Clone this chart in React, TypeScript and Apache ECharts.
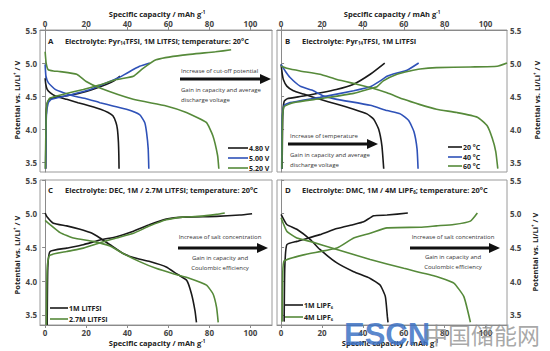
import React, { useEffect, useRef } from "react";
import * as echarts from "echarts";

// ---------- tick labels ----------
const xTicks = [0, 20, 40, 60, 80, 100];
const yTicks = [3.5, 4.0, 4.5, 5.0, 5.5];

// ---------- Panel A (cut-off potential) [capacity, potential] ----------
const aCharge480 = [[0.3,3.4],[0.5,4.2],[1,4.38],[2,4.45],[5,4.48],[10,4.5],[20,4.57],[30,4.68],[34,4.74],[36.5,4.8]];
const aDis480 = [[0,4.77],[0.3,4.68],[1,4.6],[2.4,4.55],[5,4.5],[10.5,4.45],[16,4.4],[21.8,4.35],[27,4.3],[30.7,4.25],[33,4.2],[34.5,4.1],[35.2,4.0],[35.7,3.8],[35.9,3.6],[36,3.4]];
const aCharge500 = [[0.2,3.4],[0.6,4.2],[1.5,4.4],[3,4.45],[10,4.5],[22,4.6],[30,4.7],[36,4.78],[40,4.85],[46,4.95],[51,5.0]];
const aDis500 = [[0,4.98],[0.4,4.8],[1.6,4.7],[4.9,4.6],[9,4.55],[14,4.5],[20,4.46],[26.7,4.4],[33,4.35],[39.6,4.3],[46,4.22],[48.5,4.1],[49.4,3.95],[50.2,3.7],[50.5,3.4]];
const aCharge520 = [[0.1,3.4],[0.5,4.2],[1,4.4],[2.4,4.47],[8,4.52],[18.6,4.6],[26.7,4.67],[34.8,4.75],[43,4.8],[47.7,4.92],[54,5.05],[67,5.12],[83,5.17],[90.6,5.2]];
const aDis520 = [[0,5.17],[0.5,5.0],[1.5,4.9],[4,4.88],[7.3,4.87],[15.4,4.83],[20,4.72],[26.7,4.62],[42.9,4.45],[59,4.35],[68.8,4.25],[78.5,4.1],[81.7,3.9],[84,3.6],[84.6,3.4]];

// ---------- Panel B (temperature) ----------
const bCharge20 = [[0.5,3.4],[0.8,4.2],[1.5,4.42],[3,4.46],[11,4.5],[27,4.6],[35.5,4.68],[43.6,4.83],[50.7,5.0]];
const bDis20 = [[0,4.98],[0.5,4.85],[1.1,4.75],[2.8,4.65],[6,4.58],[11,4.53],[19,4.45],[27,4.38],[35.5,4.3],[42,4.23],[45.3,4.15],[47.7,4.0],[49.3,3.75],[50.2,3.4]];
const bCharge40 = [[0.3,3.4],[0.6,4.2],[1.5,4.36],[4.4,4.4],[19,4.48],[35.5,4.58],[43.6,4.64],[48.5,4.73],[51.8,4.8],[56.7,4.85],[61.6,4.89],[67.3,5.0]];
const bDis40 = [[0,4.98],[2,4.88],[4.4,4.78],[9.3,4.65],[15,4.59],[20.8,4.5],[27.3,4.45],[43.6,4.36],[51.8,4.28],[58.3,4.23],[62.4,4.13],[65,3.96],[66.5,3.7],[67,3.4]];
const bCharge60 = [[0.4,3.4],[0.7,4.2],[1.5,4.34],[6,4.4],[19,4.46],[35.5,4.54],[43.6,4.61],[46.9,4.64],[50,4.73],[56.7,4.83],[63,4.88],[68,4.91],[76,4.93],[92.6,4.94],[105.7,4.95],[110.5,5.0]];
const bDis60 = [[0,4.95],[2.8,4.92],[9.3,4.88],[19,4.83],[27.3,4.75],[37,4.68],[43.6,4.63],[51.8,4.55],[60,4.45],[68,4.37],[76,4.3],[86,4.25],[96,4.18],[100.8,4.05],[103.3,3.86],[105,3.66],[106,3.4]];

// ---------- Panel C (DEC, LiTFSI) ----------
const cCharge1M = [[1,3.35],[1.3,4.2],[2.4,4.44],[10.5,4.49],[18.6,4.54],[26.7,4.61],[34.8,4.66],[43,4.74],[51,4.84],[59,4.92],[67,4.95],[83.5,4.96],[94.8,4.98],[100.8,5.0]];
const cDis1M = [[0,5.01],[0.8,4.96],[4,4.86],[10.5,4.82],[17,4.77],[22,4.72],[26.7,4.64],[31.6,4.54],[38,4.41],[43,4.35],[51,4.29],[59,4.21],[64,4.11],[69,4.01],[71.3,3.81],[73,3.56],[73.7,3.39]];
const cCharge27 = [[0.6,3.35],[1,4.2],[2.1,4.38],[10.5,4.44],[18.6,4.49],[26.7,4.57],[34.8,4.64],[43,4.71],[51,4.82],[59,4.91],[67,4.95],[75,4.96],[83.5,4.99],[87.5,5.01]];
const cDis27 = [[0,4.9],[2.4,4.84],[7.3,4.72],[13.8,4.64],[23.5,4.59],[31.6,4.52],[38,4.41],[46,4.29],[54,4.19],[62.4,4.11],[70.5,4.04],[78.6,3.94],[81.8,3.81],[83.5,3.61],[84.3,3.39]];

// ---------- Panel D (DMC, LiPF6) ----------
const dCharge1M = [[1.5,3.4],[1.8,4.2],[2.8,4.54],[7.7,4.59],[19,4.69],[27.3,4.78],[35.5,4.84],[40.4,4.88],[45.3,4.97],[51.8,4.98],[62,5.01]];
const dDis1M = [[0,4.99],[2.8,4.84],[7.7,4.77],[14.2,4.62],[19,4.47],[27.3,4.27],[35.5,4.14],[43.6,4.04],[48.5,3.94],[51,3.77],[52,3.47],[52.3,3.39]];
const dCharge4M = [[0.5,3.4],[0.8,4.1],[1.5,4.3],[11,4.39],[27.3,4.49],[35.5,4.64],[43.6,4.71],[51.8,4.79],[68,4.8],[76,4.82],[84.5,4.84],[92.6,4.89],[96,5.01]];
const dDis4M = [[0,4.94],[2.8,4.74],[7.7,4.64],[14.2,4.59],[27.3,4.47],[43.6,4.32],[60,4.19],[76,4.07],[84.5,3.97],[89.4,3.77],[92.6,3.39]];

const BLACK = "#1a1a1a";
const BLUE = "#2f52b8";
const GREEN = "#568a3a";
const FONT = "Open Sans";

const grids = [
  { left: 40, top: 30, width: 232, height: 142 },
  { left: 277, top: 30, width: 230, height: 142 },
  { left: 40, top: 180, width: 232, height: 145 },
  { left: 277, top: 180, width: 230, height: 145 },
];

function xAx(i: number, pos: string, min: number, max: number) {
  return {
    type: "value", gridIndex: i, position: pos, min, max,
    axisLine: { show: true, lineStyle: { color: "#8a8a8a", width: 1 } },
    axisTick: { show: true, length: 3, customValues: xTicks, lineStyle: { color: "#8a8a8a" } },
    axisLabel: { customValues: xTicks, margin: 3, fontSize: 8, fontWeight: "bold", color: "#444", fontFamily: FONT },
    splitLine: { show: false },
  };
}
function yAx(i: number, pos: string) {
  return {
    type: "value", gridIndex: i, position: pos, min: 3.35, max: 5.5,
    axisLine: { show: true, lineStyle: { color: "#8a8a8a", width: 1 } },
    axisTick: { show: true, length: 3, customValues: yTicks, lineStyle: { color: "#8a8a8a" } },
    axisLabel: { customValues: yTicks, margin: 3, fontSize: 8, fontWeight: "bold", color: "#444", fontFamily: FONT,
      formatter: (v: number) => v.toFixed(1) },
    splitLine: { show: false },
  };
}
function ser(name: string, data: number[][], i: number, color: string) {
  return { type: "line", name, data, xAxisIndex: i, yAxisIndex: i, showSymbol: false, smooth: 0.15,
    lineStyle: { color, width: 1.6 }, itemStyle: { color }, z: 3 };
}

function txt(x: number, y: number, text: string, o: any = {}) {
  return { type: "text", x, y, z: 10, style: { text, fontFamily: FONT, fontSize: 6, fill: "#333",
    textVerticalAlign: "middle", ...o } };
}
function rich(x: number, y: number, text: string, size: number, o: any = {}, rot = 0) {
  return { type: "text", x, y, rotation: rot, z: 10, style: { text, fontFamily: FONT, fill: "#222",
    textAlign: o.align || "left", textVerticalAlign: "middle",
    rich: {
      b: { fontSize: size, fontWeight: "bold", fontFamily: FONT, fill: o.fill || "#222" },
      s: { fontSize: size * 0.6, fontWeight: "bold", fontFamily: FONT, padding: [size * 0.6, 0, 0, 0], fill: o.fill || "#222" },
      p: { fontSize: size * 0.6, fontWeight: "bold", fontFamily: FONT, padding: [0, 0, size * 0.6, 0], fill: o.fill || "#222" },
    } } };
}
function arrow(x1: number, x2: number, y: number) {
  return [
    { type: "line", z: 10, shape: { x1, y1: y, x2: x2 - 8, y2: y }, style: { stroke: "#111", lineWidth: 3 } },
    { type: "polygon", z: 10, shape: { points: [[x2 - 11, y - 5], [x2, y], [x2 - 11, y + 5]] }, style: { fill: "#111" } },
  ];
}
function leg(x1: number, x2: number, y: number, color: string, label: string) {
  return [
    { type: "line", z: 10, shape: { x1, y1: y, x2, y2: y }, style: { stroke: color, lineWidth: 1.6 } },
    rich(x2 + 1, y, label, 7),
  ];
}

export default function App() {
  const ref = useRef<HTMLDivElement>(null);
  useEffect(() => {
    if (!ref.current) return;
    const chart = echarts.init(ref.current, null, { renderer: "svg" });
    const axTitle = "{b|Specific capacity / mAh g}{p|-1}";
    const yTitle = "{b|Potential vs. Li/Li}{p|+}{b| / V}";
    chart.setOption({
      animation: false,
      backgroundColor: "#fff",
      grid: grids.map((g) => ({ ...g, show: true, borderColor: "#9a9a9a", borderWidth: 1, backgroundColor: "transparent" })),
      xAxis: [xAx(0, "top", -2.5, 110.5), xAx(1, "top", -2, 110.5), xAx(2, "bottom", -2.5, 110.5), xAx(3, "bottom", -2, 110.5)],
      yAxis: [yAx(0, "left"), yAx(1, "right"), yAx(2, "left"), yAx(3, "right")],
      series: [
        ser("4.80 V", aCharge480, 0, BLACK), ser("4.80 V", aDis480, 0, BLACK),
        ser("5.00 V", aCharge500, 0, BLUE), ser("5.00 V", aDis500, 0, BLUE),
        ser("5.20 V", aCharge520, 0, GREEN), ser("5.20 V", aDis520, 0, GREEN),
        ser("20 °C", bCharge20, 1, BLACK), ser("20 °C", bDis20, 1, BLACK),
        ser("40 °C", bCharge40, 1, BLUE), ser("40 °C", bDis40, 1, BLUE),
        ser("60 °C", bCharge60, 1, GREEN), ser("60 °C", bDis60, 1, GREEN),
        ser("1M LiTFSI", cCharge1M, 2, BLACK), ser("1M LiTFSI", cDis1M, 2, BLACK),
        ser("2.7M LiTFSI", cCharge27, 2, GREEN), ser("2.7M LiTFSI", cDis27, 2, GREEN),
        ser("1M LiPF6", dCharge1M, 3, BLACK), ser("1M LiPF6", dDis1M, 3, BLACK),
        ser("4M LiPF6", dCharge4M, 3, GREEN), ser("4M LiPF6", dDis4M, 3, GREEN),
      ],
      graphic: [
        // axis titles
        rich(157, 14, axTitle, 7.5, { align: "center" }),
        rich(392, 14, axTitle, 7.5, { align: "center" }),
        rich(157, 343, axTitle, 7.5, { align: "center" }),
        rich(390, 343, axTitle, 7.5, { align: "center" }),
        rich(17, 100, yTitle, 7.5, { align: "center" }, Math.PI / 2),
        rich(17, 255, yTitle, 7.5, { align: "center" }, Math.PI / 2),
        rich(537, 100, yTitle, 7.5, { align: "center" }, Math.PI / 2),
        rich(535, 252, yTitle, 7.5, { align: "center" }, Math.PI / 2),
        // panel titles
        rich(48, 41, "{b|A}", 7.8),
        rich(65, 41, "{b|Electrolyte: Pyr}{s|14}{b|TFSI, 1M LiTFSI; temperature: 20°C}", 7.3),
        rich(285, 41, "{b|B}", 7.8),
        rich(302, 41, "{b|Electrolyte: Pyr}{s|14}{b|TFSI, 1M LiTFSI}", 7.4),
        rich(48, 190, "{b|C}", 7.8),
        rich(65, 190, "{b|Electrolyte: DEC, 1M / 2.7M LiTFSI; temperature: 20°C}", 7.4),
        rich(285, 190, "{b|D}", 7.8),
        rich(302, 190, "{b|Electrolyte: DMC, 1M / 4M LiPF}{s|6}{b|; temperature: 20°C}", 7.4),
        // annotations
        txt(181, 71, "Increase of cut-off potential"),
        ...arrow(180, 271, 79),
        txt(181, 90, "Gain in capacity and average"),
        txt(181, 100, "discharge voltage"),
        txt(290, 136, "Increase of temperature"),
        ...arrow(288, 378, 144),
        txt(290, 155, "Gain in capacity and average"),
        txt(290, 165, "discharge voltage"),
        txt(220, 237, "Increase of salt concentration", { textAlign: "center" }),
        ...arrow(178, 268, 248),
        txt(220, 258, "Gain in capacity and", { textAlign: "center" }),
        txt(220, 268, "Coulombic efficiency", { textAlign: "center" }),
        txt(453, 237, "Increase of salt concentration", { textAlign: "center" }),
        ...arrow(410, 500, 248),
        txt(453, 257, "Gain in capacity and", { textAlign: "center" }),
        txt(453, 267, "Coulombic efficiency", { textAlign: "center" }),
        // legends
        ...leg(228, 248, 148, BLACK, "{b|4.80 V}"),
        ...leg(228, 248, 158, BLUE, "{b|5.00 V}"),
        ...leg(228, 248, 168, GREEN, "{b|5.20 V}"),
        ...leg(448, 462, 147, BLACK, "{b|20 °C}"),
        ...leg(448, 462, 157, BLUE, "{b|40 °C}"),
        ...leg(448, 462, 166, GREEN, "{b|60 °C}"),
        ...leg(50, 68, 308, BLACK, "{b|1M LiTFSI}"),
        ...leg(50, 68, 319, GREEN, "{b|2.7M LiTFSI}"),
        ...leg(285, 303, 305, BLACK, "{b|1M LiPF}{s|6}"),
        ...leg(285, 303, 317, GREEN, "{b|4M LiPF}{s|6}"),
        // watermark
        { type: "text", x: 344, y: 334, z: 20, style: { text: "ESCN", fontFamily: "Liberation Sans", fontWeight: "bold",
          fontSize: 31, fill: "#3d72c4", opacity: 0.85, textVerticalAlign: "middle" } },
        { type: "text", x: 425, y: 334, z: 20, style: { text: "中国储能网", fontFamily: "Noto Sans CJK SC",
          fontSize: 23, fill: "#8c8c8c", opacity: 0.75, textVerticalAlign: "middle" } },
      ],
    });
    return () => chart.dispose();
  }, []);
  return <div ref={ref} style={{ position: "fixed", left: 0, top: 0, width: 550, height: 351, background: "#fff" }} />;
}
